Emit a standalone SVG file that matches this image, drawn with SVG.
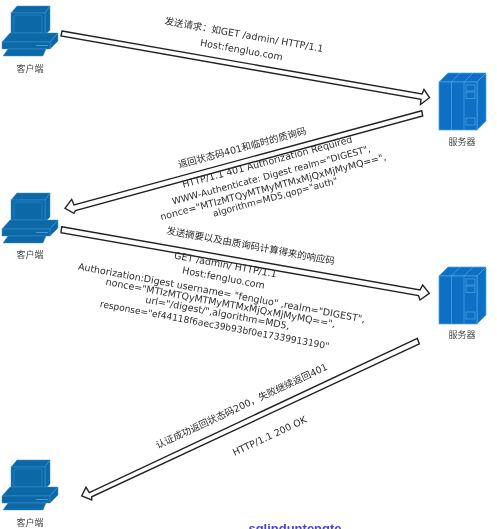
<svg xmlns="http://www.w3.org/2000/svg" width="497" height="529" viewBox="0 0 497 529">
<style>
text{font-family:"DejaVu Sans","Noto Sans CJK SC",sans-serif;font-size:9.5px;fill:#2c2c2c;text-anchor:middle}
.lbl{font-size:9px;fill:#444}
.sm{font-size:9.1px}
.arrow{fill:#fff;stroke:#222;stroke-width:1.4}
.pc{fill:#0b67a8;stroke:#3f95cc;stroke-width:.5}
.sv{fill:#0a6fc4;stroke:#58a6e4;stroke-width:.7}
.soft{filter:url(#soft)}
</style>
<defs>
<filter id="soft" x="0" y="0" width="497" height="529" filterUnits="userSpaceOnUse"><feGaussianBlur stdDeviation="0.3"/></filter>
<g id="pc">
<polygon class="pc" points="11,13 17,6 50,6 45,13"/>
<polygon class="pc" points="45,13 50,6 50,30 45,35"/>
<rect class="pc" x="11" y="13" width="34" height="22"/>
<rect class="pc" x="14" y="15" width="28" height="18" rx="2"/>
<polygon class="pc" points="2,42 10,33 58,33 50,42"/>
<polygon class="pc" points="50,42 58,33 58,41 50,49"/>
<rect class="pc" x="2" y="42" width="48" height="7"/>
<line x1="36" y1="45.500" x2="48" y2="45.500" stroke="#5aa6d8" stroke-width=".8"/>
<polygon class="pc" points="3,56 8,49 46,49 43,56"/>
</g>
<g id="sv">
<polygon class="sv" points="439,82 448,73 486,73 477,82"/>
<polygon class="sv" points="477,82 486,73 486,121 477,130"/>
<rect class="sv" x="439" y="82" width="38" height="48"/>
<path class="sv" d="M451.500,82V130M464,82V130M451.500,82L460,73M464,82L473,73"/>
<rect class="sv" x="466" y="85" width="9" height="6"/>
<rect class="sv" x="466" y="92" width="9" height="6.500"/>
<rect class="sv" x="466" y="118" width="9" height="7"/>
</g>
</defs>
<g class="soft">
<g id="connectors">
<polygon class="arrow" points="62,31 422,94 424,89.500 429.500,97.700 420.500,104.500 421,99.300 61,36"/>
<polygon class="arrow" points="421.700,110.700 74,205 71.700,199.300 65,208.300 74,213.300 75.500,210.500 422.700,116"/>
<polygon class="arrow" points="61.700,226.700 420,290 422.700,285 429.300,293.300 420,300 418.500,295.500 61,232.700"/>
<polygon class="arrow" points="417.300,338.300 89.300,492.700 86,487.300 81.700,496 91.700,500 91.700,496.800 419.300,344"/>
</g>
<g id="client1"><use href="#pc"/><text class="lbl" x="30" y="72">客户端</text></g>
<g id="server1"><use href="#sv"/><text class="lbl" x="462" y="145">服务器</text></g>
<g id="client2"><use href="#pc" y="187"/><text class="lbl" x="30" y="258">客户端</text></g>
<g id="server2"><use href="#sv" y="194"/><text class="lbl" x="462" y="338">服务器</text></g>
<g id="client3"><use href="#pc" y="454"/><text class="lbl" x="30" y="526">客户端</text></g>
<g id="labels">
<text transform="translate(243.500,38) rotate(10)">发送请求：如GET /admin/ HTTP/1.1</text>
<text transform="translate(241,53) rotate(10)">Host:fengluo.com</text>
<text transform="translate(243,151) rotate(-15)">返回状态码401和临时的质询码</text>
<text transform="translate(268,165) rotate(-15)">HTTP/1.1 401 Authorization Required</text>
<text class="sm" transform="translate(272,178) rotate(-15)">WWW-Authenticate: Digest realm="DIGEST",</text>
<text transform="translate(274,190) rotate(-15)">nonce="MTIzMTQyMTMyMTMxMjQxMjMyMQ==",</text>
<text class="sm" transform="translate(276,200) rotate(-15)">algorithm=MD5,qop="auth"</text>
<text transform="translate(250,249) rotate(10.500)">发送摘要以及由质询码计算得来的响应码</text>
<text transform="translate(225,268) rotate(10.500)">GET /admin/ HTTP/1.1</text>
<text transform="translate(223,281) rotate(10.500)">Host:fengluo.com</text>
<text transform="translate(221,296) rotate(10.500)">Authorization:Digest username= "fengluo" ,realm="DIGEST",</text>
<text transform="translate(220,306) rotate(10.500)">nonce="MTIzMTQyMTMyMTMxMjQxMjMyMQ==",</text>
<text transform="translate(217,316) rotate(10.500)">url="/digest/",algorithm=MD5,</text>
<text class="sm" transform="translate(214,328) rotate(10.500)">response="ef44118f6aec39b93bf0e17339913190"</text>
<text transform="translate(243,409) rotate(-25)">认证成功返回状态码200，失败继续返回401</text>
<text transform="translate(271,439) rotate(-25)">HTTP/1.1 200 OK</text>
<text x="295" y="533" style="font-family:'Liberation Sans',sans-serif;font-size:13px;font-weight:bold;fill:#4444e0">sqlinduntengte</text>
</g>
</g>
</svg>
